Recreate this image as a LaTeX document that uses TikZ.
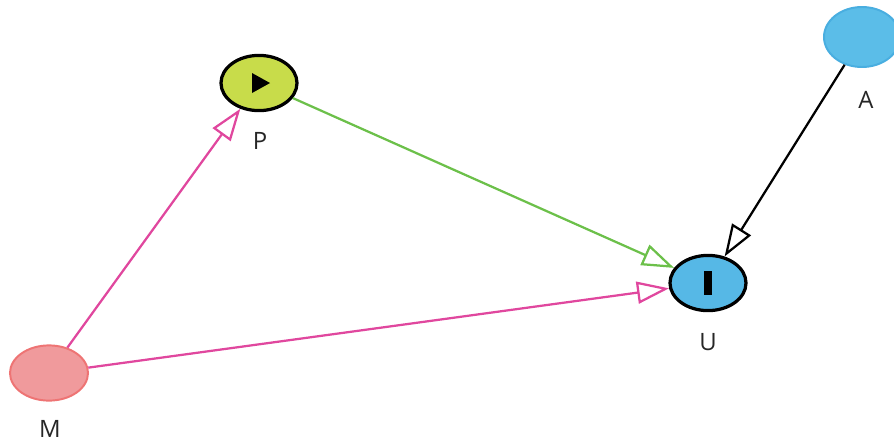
\documentclass[tikz,border=0pt]{standalone}
\usepackage{fontspec}
\setsansfont{Open Sans}
\usetikzlibrary{calc, arrows.meta, shapes.geometric}

\definecolor{pinkline}{HTML}{E0479E}
\definecolor{greenline}{HTML}{6CC04A}
\definecolor{pfill}{HTML}{C8DC4A}
\definecolor{ufill}{HTML}{56B8E6}
\definecolor{afill}{HTML}{5BBDE8}
\definecolor{aborder}{HTML}{49AEE0}
\definecolor{mfill}{HTML}{F09A9C}
\definecolor{mborder}{HTML}{EE7474}

\tikzset{
    vertex/.style={ellipse, minimum width=1.9cm, minimum height=1.38cm, inner sep=0pt},
    vlabel/.style={font=\sffamily\fontsize{17}{19}\selectfont, text=black!85, inner sep=1pt},
    edge/.style={line width=1.6pt, -{Triangle[open, length=0.8cm, width=0.55cm, line width=1.6pt]}}
}

\begin{document}
\begin{tikzpicture}[x=0.025cm, y=-0.025cm]

    % 1. Fix the frame of the picture
    \useasboundingbox (0,0) rectangle (894,442);

    % 2. Place the four variables
    \node[vertex, draw=black, line width=2.3pt, fill=pfill] (P) at (259,83) {};
    \node[vertex, draw=black, line width=2.3pt, fill=ufill] (U) at (708,283) {};
    \node[vertex, draw=aborder, line width=1.4pt, fill=afill, minimum height=1.5cm] (A) at (862,37) {};
    \node[vertex, draw=mborder, line width=1.4pt, fill=mfill, minimum width=1.95cm] (M) at (49,373) {};

    % 3. Their names underneath
    \node[vlabel] (Plab) at (260,141) {P};
    \node[vlabel] (Ulab) at (708,342) {U};
    \node[vlabel] (Alab) at (866,100) {A};
    \node[vlabel] (Mlab) at (50,429) {M};

    % 4. The glyphs inside P and U
    \fill[black] ($(P)+(-7,-10)$) -- ($(P)+(11,0)$) -- ($(P)+(-7,10)$) -- cycle;
    \fill[black] ($(U)+(-4,-12)$) rectangle ($(U)+(4,12)$);

    % 5. The arrows
    \draw[edge, pinkline] (M) -- (P);
    \draw[edge, pinkline] (M) -- (U);
    \draw[edge, greenline] (P) -- (U);
    \draw[edge, black] (A) -- (U);

\end{tikzpicture}
\end{document}
